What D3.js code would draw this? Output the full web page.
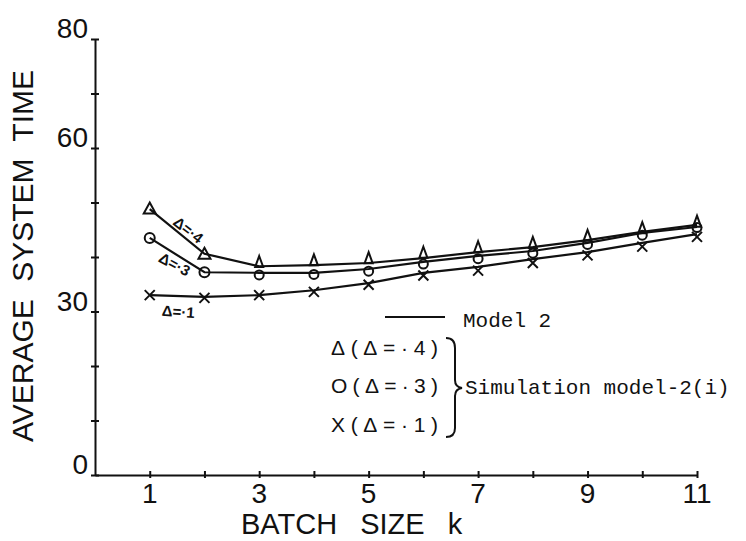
<!DOCTYPE html>
<html>
<head>
<meta charset="utf-8">
<script src="https://cdn.jsdelivr.net/npm/d3@7"></script>
<style>
body { margin: 0; background: #fff; }
svg { display: block; }
text { fill: #111; }
</style>
</head>
<body>
<svg id="output" width="746" height="541"></svg>
<script>
// batch sizes
var batch = [1, 2, 3, 4, 5, 6, 7, 8, 9, 10, 11];
// Model 2 curves
var model4 = [48.8, 40.6, 38.3, 38.5, 38.9, 39.8, 40.9, 41.8, 43.1, 44.6, 45.9];
var model3 = [43.5, 37.2, 37.1, 37.1, 37.8, 39.1, 40.2, 41.1, 42.6, 44.4, 45.5];
var model1 = [33.0, 32.7, 33.0, 33.9, 35.2, 37.1, 38.2, 39.6, 40.9, 42.6, 44.2];
// simulation points
var sim4 = [48.9, 40.6, 38.9, 39.2, 39.6, 40.6, 41.6, 42.4, 43.7, 45.1, 46.3];
var sim3 = [43.5, 37.2, 36.7, 36.8, 37.4, 38.7, 39.7, 40.7, 42.3, 44.0, 45.4];
var sim1 = [33.0, 32.5, 33.0, 33.6, 34.9, 36.6, 37.5, 38.9, 40.3, 41.9, 43.7];
var yTicks = [0, 10, 20, 30, 40, 50, 60, 70, 80];
var yLabels = [0, 30, 60, 80];
var xTicks = [1, 2, 3, 4, 5, 6, 7, 8, 9, 10, 11];
var xLabels = [1, 3, 5, 7, 9, 11];

var svg = d3.select('#output');
var x = d3.scaleLinear().domain([0, 11]).range([95, 697]);
var y = d3.scaleLinear().domain([0, 80]).range([475, 39]);
var sans = 'Liberation Sans, Arial, sans-serif';
var mono = 'Liberation Mono, Courier New, monospace';

// axes
var gy = svg.append('g').attr('transform', 'translate(' + x(0) + ',0)')
    .call(d3.axisLeft(y).tickValues(yTicks).tickSize(4).tickSizeOuter(0).tickFormat(''));
var gx = svg.append('g').attr('transform', 'translate(0,' + y(0) + ')')
    .call(d3.axisBottom(x).tickValues(xTicks).tickSize(4).tickSizeOuter(0).tickFormat(''));
gy.selectAll('.tick line').attr('x1', 4).attr('x2', -4);
gx.selectAll('.tick line').attr('y1', -4).attr('y2', 3);
svg.selectAll('.domain, .tick line').attr('stroke', '#111').attr('stroke-width', 2);

svg.selectAll('.ylab').data(yLabels).enter().append('text')
    .attr('x', 88).attr('y', function (d) { return y(d) - 1; })
    .attr('text-anchor', 'end').attr('font-family', sans).attr('font-size', 28)
    .text(function (d) { return d; });
svg.selectAll('.xlab').data(xLabels).enter().append('text')
    .attr('x', function (d) { return x(d); }).attr('y', 503)
    .attr('text-anchor', 'middle').attr('font-family', sans).attr('font-size', 28)
    .text(function (d) { return d; });

svg.append('text').attr('x', 241).attr('y', 534)
    .attr('font-family', sans).attr('font-size', 29)
    .attr('word-spacing', 15)
    .text('BATCH SIZE k');
svg.append('text').attr('transform', 'translate(33,442) rotate(-90)')
    .attr('font-family', sans).attr('font-size', 30)
    .attr('word-spacing', 9)
    .text('AVERAGE SYSTEM TIME');

// model lines
var line = d3.line().x(function (d, i) { return x(batch[i]); }).y(function (d) { return y(d); });
[model4, model3, model1].forEach(function (s) {
    svg.append('path').attr('d', line(s)).attr('fill', 'none')
        .attr('stroke', '#111').attr('stroke-width', 2.2);
});

// simulation markers
svg.selectAll('.tri').data(sim4).enter().append('path')
    .attr('transform', function (d, i) { return 'translate(' + x(batch[i]) + ',' + y(d) + ')'; })
    .attr('d', function (d, i) { return i < 2 ? 'M0,-6L6,5L-6,5Z' : 'M0,-7L4,4L-4,4Z'; })
    .attr('fill', 'none').attr('stroke', '#111').attr('stroke-width', 2);
svg.selectAll('.circ').data(sim3).enter().append('circle')
    .attr('cx', function (d, i) { return x(batch[i]); }).attr('cy', function (d) { return y(d); })
    .attr('r', function (d, i) { return i < 2 ? 5 : 4.5; })
    .attr('fill', 'none').attr('stroke', '#111').attr('stroke-width', 2);
svg.selectAll('.cross').data(sim1).enter().append('path')
    .attr('transform', function (d, i) { return 'translate(' + x(batch[i]) + ',' + y(d) + ')'; })
    .attr('d', 'M-5,-5L5,5M5,-5L-5,5')
    .attr('fill', 'none').attr('stroke', '#111').attr('stroke-width', 2);

// inline labels
function tag(t, cx, cy, a) {
    svg.append('text').attr('transform', 'translate(' + cx + ',' + cy + ') rotate(' + a + ')')
        .attr('text-anchor', 'middle').attr('font-family', sans).attr('font-size', 15)
        .attr('font-weight', 'bold').text(t);
}
tag('\u0394=\u00b74', 185, 234, 38);
tag('\u0394=\u00b73', 172, 269, 28);
tag('\u0394=\u00b71', 178, 317, 4);

// legend
svg.append('line').attr('x1', 385).attr('x2', 445).attr('y1', 317).attr('y2', 317)
    .attr('stroke', '#111').attr('stroke-width', 2);
svg.append('text').attr('x', 463).attr('y', 327).attr('font-family', mono)
    .attr('font-size', 21).text('Model 2');
var legRows = ['\u0394(\u0394=\u00b74)', 'O(\u0394=\u00b73)', 'X(\u0394=\u00b71)'];
var legY = [355, 393, 432];
legRows.forEach(function (t, i) {
    svg.append('text').attr('x', 331).attr('y', legY[i]).attr('font-family', sans)
        .attr('font-size', 21).attr('textLength', 107).attr('lengthAdjust', 'spacing').text(t);
});
svg.append('path')
    .attr('d', 'M446,338 Q455,338 455,348 L455,380 Q455,387 462,388 Q455,389 455,396 L455,428 Q455,437 446,437')
    .attr('fill', 'none').attr('stroke', '#111').attr('stroke-width', 2);
svg.append('text').attr('x', 465).attr('y', 394).attr('font-family', mono)
    .attr('font-size', 21).text('Simulation model-2(i)');
</script>
</body>
</html>
